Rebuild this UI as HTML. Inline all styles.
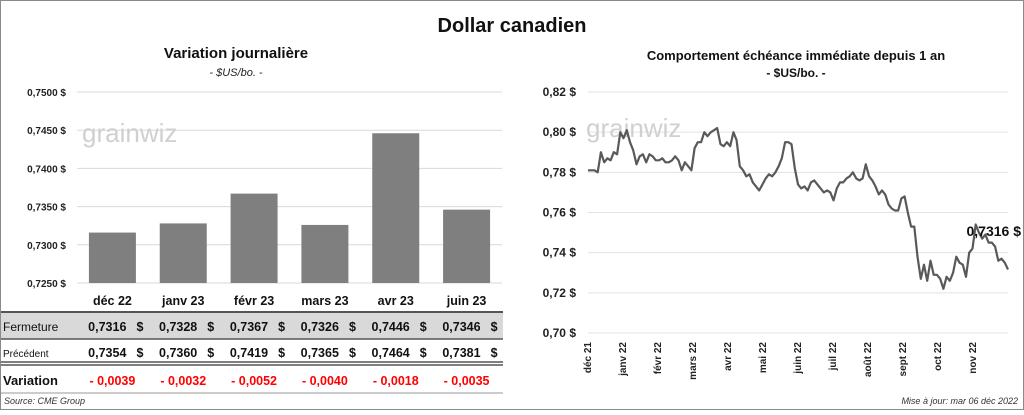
<!DOCTYPE html>
<html><head><meta charset="utf-8"><style>
html,body{margin:0;padding:0;background:#fff}
body{width:1024px;height:410px;overflow:hidden;font-family:"Liberation Sans",sans-serif}
svg text{font-family:"Liberation Sans",sans-serif}
</style></head><body>
<svg id="s" width="1024" height="410" xmlns="http://www.w3.org/2000/svg">
<rect x="0.5" y="0.5" width="1023" height="409" fill="#fff" stroke="#8a8a8a"/>
<text x="512" y="32" text-anchor="middle" font-size="20" font-weight="bold" fill="#111">Dollar canadien</text>
<text x="236" y="58" text-anchor="middle" font-size="15" font-weight="bold" fill="#111">Variation  journalière</text>
<text x="236" y="76" text-anchor="middle" font-size="11" font-style="italic" fill="#222">- $US/bo. -</text>
<text x="796" y="60" text-anchor="middle" font-size="13" font-weight="bold" fill="#111">Comportement échéance immédiate depuis 1 an</text>
<text x="796" y="77" text-anchor="middle" font-size="12" font-weight="bold" fill="#111">- $US/bo. -</text>
<g id="left"></g>
<g id="right"></g>
<g id="table"></g>
<text x="4" y="404" font-size="9" font-style="italic" fill="#333">Source: CME Group</text>
<text x="1018" y="404" text-anchor="end" font-size="9" font-style="italic" fill="#333">Mise à jour: mar 06 déc 2022</text>
</svg>
<script>
const barCats=["déc 22","janv 23","févr 23","mars 23","avr 23","juin 23"];
const closeVals=[0.7316,0.7328,0.7367,0.7326,0.7446,0.7346];
const prevVals=[0.7354,0.7360,0.7419,0.7365,0.7464,0.7381];
const varLabels=["- 0,0039","- 0,0032","- 0,0052","- 0,0040","- 0,0018","- 0,0035"];
const barTicks=[0.725,0.730,0.735,0.740,0.745,0.750];
const lineTicks=[0.70,0.72,0.74,0.76,0.78,0.80,0.82];
const monthLabels=["déc 21","janv 22","févr 22","mars 22","avr 22","mai 22","juin 22","juil 22","août 22","sept 22","oct 22","nov 22"];
const lineVals=[0.781,0.781,0.781,0.780,0.790,0.785,0.787,0.786,0.790,0.789,0.800,0.797,0.801,0.795,0.791,0.784,0.788,0.789,0.785,0.789,0.788,0.786,0.786,0.787,0.785,0.785,0.786,0.788,0.786,0.781,0.785,0.783,0.781,0.792,0.795,0.795,0.800,0.798,0.800,0.801,0.802,0.794,0.793,0.795,0.793,0.800,0.796,0.783,0.781,0.778,0.779,0.775,0.773,0.771,0.774,0.777,0.779,0.778,0.780,0.783,0.787,0.795,0.795,0.794,0.782,0.774,0.772,0.773,0.771,0.775,0.776,0.774,0.772,0.770,0.771,0.770,0.766,0.772,0.775,0.775,0.777,0.778,0.780,0.777,0.776,0.777,0.784,0.778,0.776,0.773,0.769,0.771,0.769,0.764,0.762,0.761,0.761,0.767,0.768,0.760,0.753,0.753,0.738,0.727,0.734,0.726,0.736,0.729,0.729,0.727,0.722,0.728,0.726,0.730,0.738,0.735,0.734,0.728,0.740,0.742,0.754,0.750,0.747,0.749,0.745,0.745,0.743,0.736,0.737,0.735,0.7316];
const NS="http://www.w3.org/2000/svg";
function mk(p,t,a,txt){const e=document.createElementNS(NS,t);for(const k in a)e.setAttribute(k,a[k]);if(txt!==undefined)e.textContent=txt;p.appendChild(e);return e;}
const fmt=(v,d)=>v.toFixed(d).replace('.',',');
// left bar chart
const L=document.getElementById('left');
const lx0=77,lx1=502,ly0=92,ly1=283,lmin=0.725,lmax=0.750;
const ly=v=>ly1-(v-lmin)/(lmax-lmin)*(ly1-ly0);
const bw=(lx1-lx0)/barCats.length;
const bx=i=>lx0+bw*(i+0.5);
barTicks.forEach(t=>{
 const g=mk(L,'line',{x1:lx0,x2:lx1,y1:ly(t),y2:ly(t),stroke:'#d9d9d9','stroke-width':1});
 
 
 const tx=mk(L,'text',{x:66,y:ly(t)+4,'text-anchor':'end','font-size':10,'font-weight':'bold',fill:'#222'},fmt(t,4)+' $');
 
 
});
const wm1=mk(L,'text',{x:82,y:142,'font-size':26,fill:'#d0d0d0'},'grainwiz');


closeVals.forEach((v,i)=>{
 const r=mk(L,'rect',{x:bx(i)-23.5,y:ly(v),width:47,height:ly1-ly(v),fill:'#7f7f7f'});
 
 
});
// table
const T=document.getElementById('table');
mk(T,'rect',{x:1,y:313,width:502,height:26,fill:'#d9d9d9'});
[[312,2,'#555'],[339,1.5,'#555'],[362,1.5,'#555'],[365,1.5,'#555']].forEach(l=>mk(T,'line',{x1:1,x2:503,y1:l[0],y2:l[0],stroke:l[2],'stroke-width':l[1]}));
const lab=(txt,y,sz,bold,nm)=>{const e=mk(T,'text',{x:3,y:y,'font-size':sz,'font-weight':bold?'bold':'normal',fill:'#111'},txt);};
lab('Fermeture',331,12,false,'row-label-fermeture');
lab('Précédent',357,10,false,'row-label-precedent');
lab('Variation',385,13,true,'row-label-variation');
barCats.forEach((c,i)=>{
 const x=bx(i);
 const h=mk(T,'text',{x:x,y:305,'text-anchor':'middle','font-size':12.5,'font-weight':'bold',fill:'#111'},c);
 
 
 const a=mk(T,'text',{x:x+14,y:331,'text-anchor':'end','font-size':12.5,'font-weight':'bold',fill:'#111'},fmt(closeVals[i],4));
 
 
 mk(T,'text',{x:x+31,y:331,'text-anchor':'end','font-size':12.5,'font-weight':'bold',fill:'#111'},'$');
 const b=mk(T,'text',{x:x+14,y:357,'text-anchor':'end','font-size':12.5,'font-weight':'bold',fill:'#111'},fmt(prevVals[i],4));
 
 
 mk(T,'text',{x:x+31,y:357,'text-anchor':'end','font-size':12.5,'font-weight':'bold',fill:'#111'},'$');
 const d=mk(T,'text',{x:x,y:385,'text-anchor':'middle','font-size':12.5,'font-weight':'bold',fill:'#f00'},varLabels[i]);
 
 
});
mk(T,'line',{x1:1,x2:503,y1:393,y2:393,stroke:'#999','stroke-width':1});
// right line chart
const R=document.getElementById('right');
const rx0=588,rx1=1008,ry0=92,ry1=333,rmin=0.70,rmax=0.82;
const ry=v=>ry1-(v-rmin)/(rmax-rmin)*(ry1-ry0);
const rx=i=>rx0+i/(lineVals.length-1)*(rx1-rx0);
lineTicks.forEach(t=>{
 const g=mk(R,'line',{x1:rx0,x2:rx1,y1:ry(t),y2:ry(t),stroke:'#e3e3e3','stroke-width':1});
 
 
 const tx=mk(R,'text',{x:576,y:ry(t)+4,'text-anchor':'end','font-size':12,'font-weight':'bold',fill:'#222'},fmt(t,2)+' $');
 
 
});
const wm2=mk(R,'text',{x:586,y:137,'font-size':26,fill:'#d0d0d0'},'grainwiz');


const mw=(rx1-rx0)/monthLabels.length;
monthLabels.forEach((m,i)=>{
 const x=rx0+mw*i+3;
 const t=mk(R,'text',{x:x,y:342,'text-anchor':'end','font-size':10,'font-weight':'bold',fill:'#222',transform:`rotate(-90 ${x} 342)`},m);
 
 
});
const pl=mk(R,'polyline',{points:lineVals.map((v,i)=>rx(i).toFixed(1)+','+ry(v).toFixed(1)).join(' '),fill:'none',stroke:'#595959','stroke-width':2.2,'stroke-linejoin':'round'});


const last=lineVals[lineVals.length-1];
const ll=mk(R,'text',{x:1021,y:236,'text-anchor':'end','font-size':14,'font-weight':'bold',fill:'#111'},fmt(last,4)+' $');


</script>
</body></html>
